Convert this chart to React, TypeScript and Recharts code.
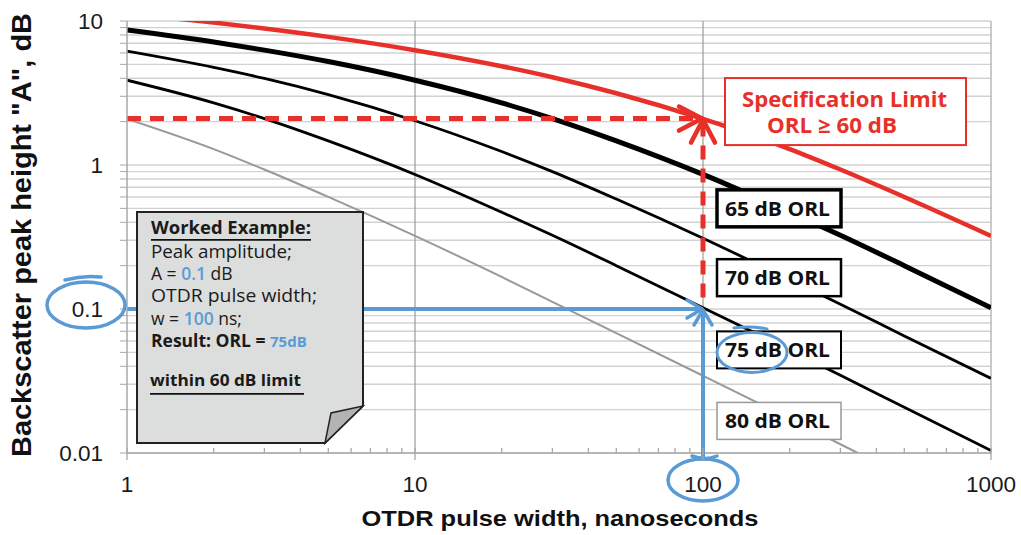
import React from "react";
import {
  ComposedChart,
  Line,
  XAxis,
  YAxis,
  CartesianGrid,
  ReferenceLine,
  ReferenceDot,
} from "recharts";

// pulse width (ns) and backscatter peak height A (dB) for each ORL curve
const pulseWidths = [1, 2, 3, 5, 10, 20, 30, 50, 100, 200, 300, 500, 1000];
const orl60 = [11.3, 9.75, 8.87, 7.76, 6.27, 4.85, 4.07, 3.15, 2.09, 1.29, 0.93, 0.6, 0.322];
const orl65 = [8.65, 7.15, 6.28, 5.23, 3.88, 2.7, 2.1, 1.47, 0.86, 0.47, 0.325, 0.2, 0.102];
const orl70 = [6.17, 4.76, 3.99, 3.08, 2.03, 1.24, 0.9, 0.58, 0.31, 0.16, 0.108, 0.065, 0.033];
const orl75 = [3.88, 2.7, 2.1, 1.47, 0.86, 0.47, 0.325, 0.2, 0.102, 0.052, 0.0346, 0.0208, 0.0104];
const orl80 = [2.09, 1.29, 0.93, 0.6, 0.322, 0.167, 0.112, 0.068, 0.0344, 0.0173, 0.0115, 0.0069, 0.0035];

const xTicks = [1, 2, 3, 4, 5, 6, 7, 8, 9, 10, 20, 30, 40, 50, 60, 70, 80, 90, 100, 200, 300, 400, 500, 600, 700, 800, 900, 1000];
const xLabels = [1, 10, 100, 1000];
const yTicks = [0.01, 0.02, 0.03, 0.04, 0.05, 0.06, 0.07, 0.08, 0.09, 0.1, 0.2, 0.3, 0.4, 0.5, 0.6, 0.7, 0.8, 0.9, 1, 2, 3, 4, 5, 6, 7, 8, 9, 10];
const yLabels = [0.01, 0.1, 1, 10];

// worked example / limit points
const limitA = 2.1;
const exampleA = 0.1;
const exampleW = 100;
const exampleTop = 0.12;

// where the curve name boxes sit (y value of box centre)
const labelRows = [
  { name: "65 dB ORL", y: 0.5, border: 3.5, color: "#000" },
  { name: "70 dB ORL", y: 0.165, border: 2.5, color: "#000" },
  { name: "75 dB ORL", y: 0.052, border: 2, color: "#000" },
  { name: "80 dB ORL", y: 0.0167, border: 1.5, color: "#999" },
];

const rows = pulseWidths.map((w, i) => ({
  w,
  orl60: orl60[i],
  orl65: orl65[i],
  orl70: orl70[i],
  orl75: orl75[i],
  orl80: orl80[i],
}));

const RED = "#e8302a";
const BLUE = "#5b9bd5";
const ARIAL = "Liberation Sans, Arial, sans-serif";
const SANS = "Open Sans, sans-serif";

const XTick = (props: any) => {
  const { x, y, payload } = props;
  const major = xLabels.includes(payload.value);
  return (
    <g>
      <line x1={x} x2={x} y1={y - 5} y2={major ? y + 7 : y} stroke="#a8a8a8" strokeWidth={1.3} />
      {major && (
        <text x={x} y={y + 39} textAnchor="middle" fontSize={22.5} fill="#1a1a1a" fontFamily={ARIAL}>
          {payload.value}
        </text>
      )}
    </g>
  );
};

const Chevrons = (color: string, len: number, spread: number, width: number) => (p: any) => {
  const { cx, cy } = p;
  return (
    <g fill="none" stroke={color} strokeWidth={width} strokeLinecap="round" strokeLinejoin="round">
      <polyline points={`${cx - len},${cy - spread} ${cx - 1},${cy} ${cx - len},${cy + spread}`} />
      <polyline points={`${cx - spread},${cy + len} ${cx},${cy + 1} ${cx + spread},${cy + len}`} />
    </g>
  );
};

const NameBox = (row: (typeof labelRows)[number]) => (p: any) => {
  const { cx, cy } = p;
  const isExample = row.name.startsWith("75");
  return (
    <g>
      <rect x={cx + 14} y={cy - 18.5} width={124} height={37} fill="#fff" stroke={row.color} strokeWidth={row.border} />
      <text
        x={cx + 22}
        y={cy + 7.5}
        fontSize={20}
        fontWeight={700}
        fontFamily={SANS}
        fill="#111"
        textLength={105}
        lengthAdjust="spacingAndGlyphs"
      >
        {row.name}
      </text>
      {isExample && (
        <g fill="none" stroke={BLUE} strokeWidth={3} strokeLinecap="round">
          <ellipse cx={cx + 49} cy={cy + 2.5} rx={35} ry={20} />
          <path d={`M ${cx + 31} ${cy - 22} Q ${cx + 48} ${cy - 24} ${cx + 64} ${cy - 21}`} />
        </g>
      )}
    </g>
  );
};

const SpecBox = (p: any) => {
  const { cx, cy } = p;
  return (
    <g>
      <rect x={cx + 22} y={cy - 33.5} width={241} height={67} fill="#fff" stroke={RED} strokeWidth={2} />
      <text
        x={cx + 141.5}
        y={cy - 5}
        textAnchor="middle"
        fontSize={21}
        fontWeight={700}
        fontFamily={SANS}
        fill={RED}
        textLength={205}
        lengthAdjust="spacingAndGlyphs"
      >
        Specification Limit
      </text>
      <text
        x={cx + 129}
        y={cy + 21.5}
        textAnchor="middle"
        fontSize={21}
        fontWeight={700}
        fontFamily={SANS}
        fill={RED}
        textLength={130}
        lengthAdjust="spacingAndGlyphs"
      >
        ORL ≥ 60 dB
      </text>
    </g>
  );
};

const NoteBox = (p: any) => {
  const { cx, cy } = p;
  const L = cx + 10;
  const T = cy;
  const tx = cx + 24;
  return (
    <g fontFamily={SANS} fontSize={17.5} fill="#1a1a1a">
      <polygon
        points={`${L},${T} ${cx + 236},${T} ${cx + 236},${T + 194} ${cx + 198},${T + 231} ${L},${T + 231}`}
        fill="#dcdedd"
        stroke="#222"
        strokeWidth={2}
      />
      <polygon
        points={`${cx + 198},${T + 231} ${cx + 204},${T + 201} ${cx + 236},${T + 194}`}
        fill="#b3b3b3"
        stroke="#222"
        strokeWidth={1.5}
      />
      <text x={tx} y={T + 22} fontWeight={700} textLength={160} lengthAdjust="spacingAndGlyphs">
        Worked Example:
      </text>
      <line x1={tx} x2={cx + 184} y1={T + 28} y2={T + 28} stroke="#111" strokeWidth={1.8} />
      <text x={tx} y={T + 46} textLength={141} lengthAdjust="spacingAndGlyphs">Peak amplitude;</text>
      <text x={tx} y={T + 68}>
        A = <tspan fill={BLUE} fontWeight={600}>0.1</tspan> dB
      </text>
      <text x={tx} y={T + 90} textLength={166} lengthAdjust="spacingAndGlyphs">OTDR pulse width;</text>
      <text x={tx} y={T + 113}>
        w = <tspan fill={BLUE} fontWeight={600}>100</tspan> ns;
      </text>
      <text x={tx} y={T + 135} fontWeight={700}>
        Result: ORL = <tspan fill={BLUE} fontSize={15}>75dB</tspan>
      </text>
      <text x={tx - 1} y={T + 174} fontWeight={700} fontSize={16.5} textLength={151} lengthAdjust="spacingAndGlyphs">
        within 60 dB limit
      </text>
      <line x1={tx - 1} x2={cx + 177} y1={T + 182} y2={T + 182} stroke="#111" strokeWidth={1.8} />
    </g>
  );
};

const LeftEllipse = (p: any) => {
  const { cx, cy } = p;
  return (
    <g fill="none" stroke={BLUE} strokeWidth={3.5} strokeLinecap="round">
      <ellipse cx={cx - 41} cy={cy - 4} rx={39} ry={23} />
      <path d={`M ${cx - 62} ${cy - 29} Q ${cx - 44} ${cy - 34} ${cx - 26} ${cy - 32}`} />
    </g>
  );
};

const BottomEllipse = (p: any) => {
  const { cx, cy } = p;
  return (
    <g fill="none" stroke={BLUE} strokeWidth={3.5} strokeLinecap="round">
      <line x1={cx} x2={cx} y1={cy} y2={cy + 6} strokeWidth={4} />
      <ellipse cx={cx} cy={cy + 27} rx={35} ry={21} />
      <path d={`M ${cx - 11} ${cy + 3} Q ${cx + 2} ${cy + 8} ${cx + 14} ${cy + 3}`} />
    </g>
  );
};

const YTitle = (props: any) => {
  const { viewBox } = props;
  const x = viewBox.x + 22;
  const y = viewBox.y + viewBox.height / 2 - 2;
  return (
    <text
      x={x}
      y={y}
      transform={`rotate(-90 ${x} ${y})`}
      textAnchor="middle"
      dominantBaseline="central"
      fontSize={27}
      fontWeight={700}
      fontFamily={ARIAL}
      fill="#111"
      textLength={444}
      lengthAdjust="spacingAndGlyphs"
    >
      Backscatter peak height "A", dB
    </text>
  );
};

const XTitle = (props: any) => {
  const { viewBox } = props;
  return (
    <text
      x={viewBox.x + viewBox.width / 2 + 1}
      y={viewBox.y + 73}
      textAnchor="middle"
      fontSize={22}
      fontWeight={700}
      fontFamily={ARIAL}
      fill="#111"
      textLength={397}
      lengthAdjust="spacingAndGlyphs"
    >
      OTDR pulse width, nanoseconds
    </text>
  );
};

export default function App() {
  return (
    <div style={{ position: "absolute", left: 0, top: 0, background: "#fff" }}>
      <ComposedChart width={1021} height={535} data={rows} margin={{ top: 21, right: 30, bottom: 0, left: 0 }}>
        <CartesianGrid vertical={false} stroke="#d2d2d2" strokeWidth={1.4} />
        <XAxis
          dataKey="w"
          type="number"
          scale="log"
          domain={[1, 1000]}
          ticks={xTicks}
          interval={0}
          allowDataOverflow
          height={82}
          tickLine={false}
          tickSize={0}
          tickMargin={0}
          tick={(p: any) => <XTick {...p} />}
          axisLine={{ stroke: "#a8a8a8", strokeWidth: 1.5 }}
          label={{ content: (p: any) => <XTitle {...p} /> }}
        />
        <YAxis
          type="number"
          scale="log"
          domain={[0.01, 10]}
          ticks={yTicks}
          interval={0}
          allowDataOverflow
          width={127}
          tickSize={7}
          tickMargin={17}
          tickLine={{ stroke: "#a8a8a8" }}
          axisLine={{ stroke: "#a8a8a8", strokeWidth: 1.5 }}
          tickFormatter={(v: number) => (yLabels.includes(v) ? String(v) : "")}
          tick={{ fontSize: 22.5, fill: "#1a1a1a", fontFamily: ARIAL }}
          label={{ content: (p: any) => <YTitle {...p} /> }}
        />
        <ReferenceLine x={10} stroke="#9a9a9a" strokeWidth={1.2} />
        <ReferenceLine x={100} stroke="#9a9a9a" strokeWidth={1.2} />
        <ReferenceLine x={1000} stroke="#b8b8b8" strokeWidth={1.5} />

        <Line dataKey="orl80" type="monotone" stroke="#999" strokeWidth={2} dot={false} isAnimationActive={false} />
        <Line dataKey="orl75" type="monotone" stroke="#000" strokeWidth={2.8} dot={false} isAnimationActive={false} />
        <Line dataKey="orl70" type="monotone" stroke="#000" strokeWidth={2.8} dot={false} isAnimationActive={false} />
        <Line dataKey="orl65" type="monotone" stroke="#000" strokeWidth={5} dot={false} isAnimationActive={false} />
        <Line dataKey="orl60" type="monotone" stroke={RED} strokeWidth={4.5} dot={false} isAnimationActive={false} />

        <ReferenceLine
          segment={[{ x: 1, y: limitA }, { x: exampleW, y: limitA }]}
          stroke={RED}
          strokeWidth={5}
          strokeDasharray="14 9"
        />
        <ReferenceLine
          segment={[{ x: exampleW, y: exampleTop }, { x: exampleW, y: limitA }]}
          stroke={RED}
          strokeWidth={5}
          strokeDasharray="14 9"
        />
        <ReferenceDot x={exampleW} y={limitA} shape={Chevrons(RED, 24, 12, 4.5)} />

        <ReferenceLine
          segment={[{ x: 1, y: exampleA }, { x: exampleW, y: exampleA }]}
          stroke={BLUE}
          strokeWidth={4}
        />
        <ReferenceLine
          segment={[{ x: exampleW, y: 0.01 }, { x: exampleW, y: exampleA }]}
          stroke={BLUE}
          strokeWidth={4}
        />
        <ReferenceDot x={exampleW} y={exampleA} shape={Chevrons(BLUE, 16, 9, 3.5)} />

        <ReferenceDot x={exampleW} y={2.35} shape={SpecBox} />
        {labelRows.map((row) => (
          <ReferenceDot key={row.name} x={exampleW} y={row.y} shape={NameBox(row)} />
        ))}
        <ReferenceDot x={1} y={0.472} shape={NoteBox} />
        <ReferenceDot x={1} y={exampleA} shape={LeftEllipse} />
        <ReferenceDot x={exampleW} y={0.01} shape={BottomEllipse} />
      </ComposedChart>
    </div>
  );
}
